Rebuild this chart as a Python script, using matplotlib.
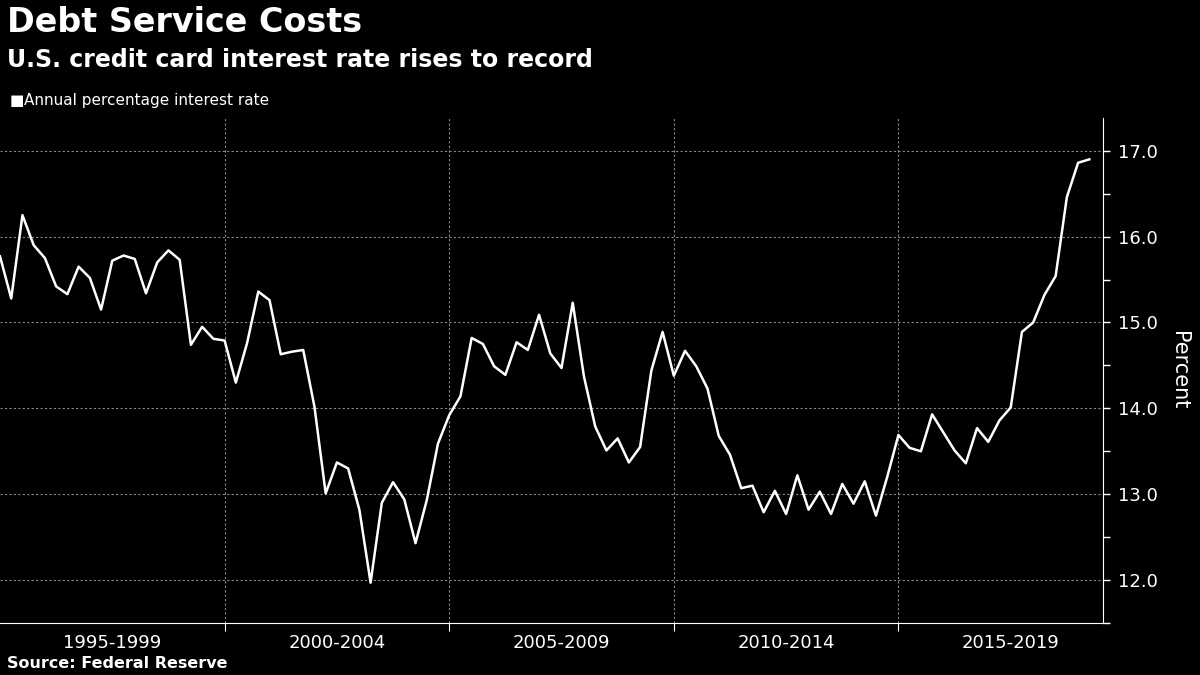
import matplotlib
matplotlib.use("Agg")
import matplotlib.pyplot as plt
from matplotlib.ticker import MultipleLocator, FixedLocator

rates = [15.77,15.28,16.25,15.90,15.75,15.42,15.33,15.65,15.52,15.15,
         15.72,15.78,15.74,15.34,15.70,15.84,15.73,14.74,14.95,14.81,
         14.79,14.30,14.76,15.36,15.26,14.63,14.66,14.68,14.02,13.01,
         13.37,13.30,12.82,11.97,12.90,13.14,12.94,12.43,12.93,13.59,
         13.92,14.14,14.82,14.75,14.49,14.39,14.77,14.68,15.09,14.64,
         14.47,15.23,14.37,13.79,13.51,13.65,13.37,13.55,14.44,14.89,
         14.38,14.67,14.49,14.23,13.68,13.46,13.07,13.10,12.79,13.04,
         12.77,13.22,12.82,13.03,12.77,13.12,12.89,13.15,12.75,13.20,
         13.69,13.54,13.50,13.93,13.72,13.51,13.36,13.77,13.61,13.86,
         14.01,14.89,15.00,15.32,15.54,16.46,16.86,16.90]
period_labels = ["1995-1999", "2000-2004", "2005-2009", "2010-2014", "2015-2019"]
yticks = [12.0, 13.0, 14.0, 15.0, 16.0, 17.0]

fig = plt.figure(figsize=(12, 6.75), dpi=100, facecolor="black")
ax = fig.add_axes([0.0, 0.077, 0.919, 0.748], facecolor="black")
x = list(range(len(rates)))
ax.plot(x, rates, color="white", lw=1.8)
ax.set_xlim(0, 98.2)
ax.set_ylim(11.5, 17.38)

ax.yaxis.tick_right()
ax.yaxis.set_label_position("right")
ax.set_yticks(yticks)
ax.set_yticklabels([f"{v:.1f}" for v in yticks], color="white", fontsize=13)
ax.yaxis.set_minor_locator(MultipleLocator(0.5))
ax.tick_params(axis="y", which="both", colors="white", length=5, width=1)
ax.tick_params(axis="y", which="major", pad=6)
ax.set_ylabel("Percent", color="white", fontsize=15, rotation=-90, labelpad=22)

ax.set_xticks([20, 40, 60, 80])
ax.set_xticklabels([])
ax.xaxis.set_minor_locator(FixedLocator([10, 30, 50, 70, 90]))
ax.set_xticklabels(period_labels, minor=True, color="white", fontsize=13)
ax.tick_params(axis="x", which="minor", length=0, pad=8)
ax.tick_params(axis="x", which="major", colors="white", length=6)

ax.grid(True, which="major", color="#888888", ls=(0, (2, 2)), lw=0.8)
for s in ["top", "left"]:
    ax.spines[s].set_visible(False)
ax.spines["right"].set_color("white")
ax.spines["bottom"].set_color("white")

fig.text(0.006, 0.967, "Debt Service Costs", color="white", fontsize=24,
         fontweight="bold", va="center", ha="left")
fig.text(0.006, 0.911, "U.S. credit card interest rate rises to record", color="white",
         fontsize=17, fontweight="bold", va="center", ha="left")
fig.text(0.008, 0.851, "\u25A0", color="white", fontsize=11, va="center", ha="left")
fig.text(0.020, 0.851, "Annual percentage interest rate", color="white", fontsize=11,
         va="center", ha="left")
fig.text(0.006, 0.017, "Source: Federal Reserve", color="white", fontsize=11.5,
         fontweight="bold", va="center", ha="left")

fig.savefig("out.png", dpi=100, facecolor="black")
